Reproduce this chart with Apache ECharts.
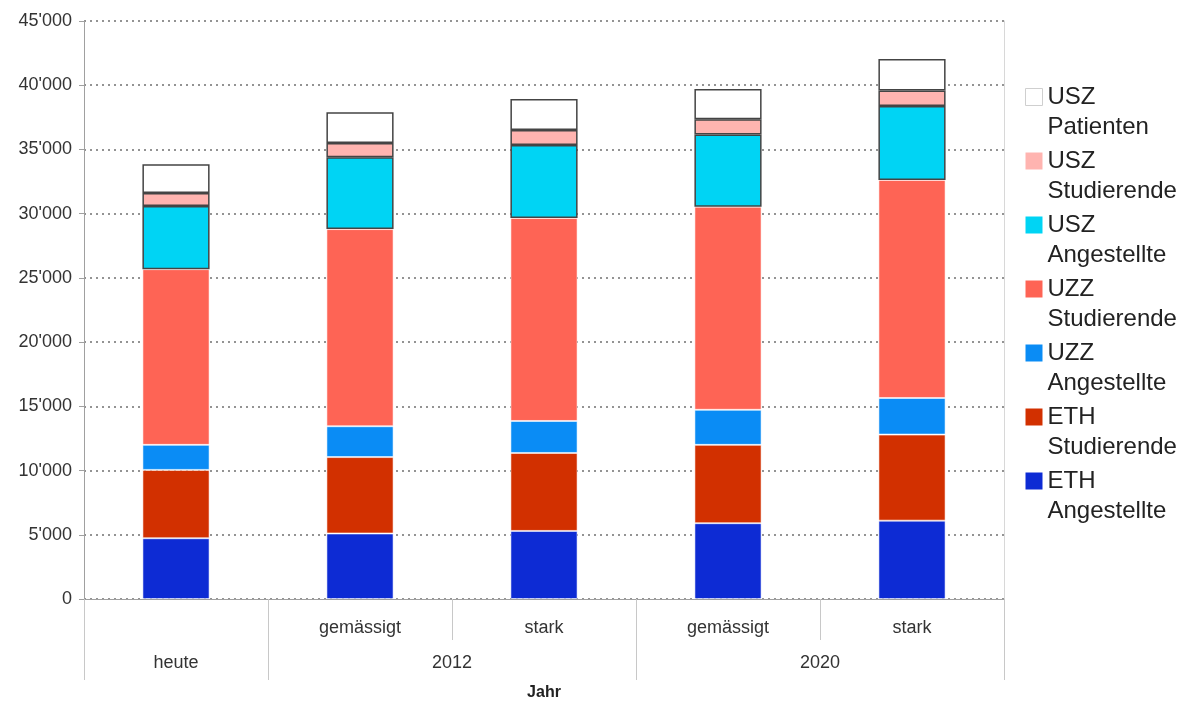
<!DOCTYPE html>
<html>
<head>
<meta charset="utf-8">
<script src="https://cdn.jsdelivr.net/npm/echarts@6/dist/echarts.min.js"></script>
<style>html,body{margin:0;padding:0;background:#fff;}#c{width:1204px;height:705px;}</style>
</head>
<body>
<div id="c"></div>
<script>
const subLabels = ['', 'gemässigt', 'stark', 'gemässigt', 'stark'];
const groupLabels = ['heute', '2012', '2020'];
const groupSizes = [1, 2, 2];
const yTicks = [0, 5000, 10000, 15000, 20000, 25000, 30000, 35000, 40000, 45000];

const ethAngestellte = [4730, 5100, 5300, 5900, 6100];
const ethStudierende = [5320, 5950, 6070, 6100, 6700];
const uzzAngestellte = [1950, 2400, 2490, 2730, 2850];
const uzzStudierende = [13680, 15350, 15800, 15810, 16980];
const uszAngestellte = [4920, 5600, 5690, 5630, 5760];
const uszStudierende = [1000, 1100, 1170, 1190, 1200];
const uszPatienten = [2250, 2400, 2410, 2340, 2450];

const seriesDefs = [
  { name: 'ETH\nAngestellte', data: ethAngestellte, color: '#0d2bd4', outline: false },
  { name: 'ETH\nStudierende', data: ethStudierende, color: '#d23000', outline: false },
  { name: 'UZZ\nAngestellte', data: uzzAngestellte, color: '#0a8cf5', outline: false },
  { name: 'UZZ\nStudierende', data: uzzStudierende, color: '#fe6455', outline: false },
  { name: 'USZ\nAngestellte', data: uszAngestellte, color: '#00d4f4', outline: true },
  { name: 'USZ\nStudierende', data: uszStudierende, color: '#ffb4b0', outline: true },
  { name: 'USZ\nPatienten', data: uszPatienten, color: '#ffffff', outline: true }
];

// group boundaries / centers derived from group sizes
const bounds = [0];
groupSizes.forEach(s => bounds.push(bounds[bounds.length - 1] + s));
const centers = groupSizes.map((s, i) => bounds[i] + s / 2);
const total = bounds[bounds.length - 1];

function fmt(v) {
  const s = String(Math.round(v));
  return s.replace(/\B(?=(\d{3})+(?!\d))/g, "'");
}

const chart = echarts.init(document.getElementById('c'), null, { renderer: 'canvas' });
const fontFam = 'Liberation Sans, Arial, sans-serif';
const sepColor = '#c8c8c8';

chart.setOption({
  animation: false,
  backgroundColor: '#ffffff',
  grid: { left: 84, right: 200, top: 21, bottom: 106, containLabel: false, outerBoundsMode: 'none' },
  legend: {
    orient: 'vertical',
    left: 1025,
    top: 52,
    padding: 0,
    itemWidth: 17,
    itemHeight: 17,
    itemGap: -26,
    icon: 'rect',
    formatter: n => ' \n' + n,
    textStyle: { fontFamily: fontFam, fontSize: 24, color: '#222', lineHeight: 30 },
    data: seriesDefs.slice().reverse().map(s => ({
      name: s.name,
      itemStyle: s.color === '#ffffff' ? { borderColor: '#cfcfcf', borderWidth: 1 } : { borderWidth: 0 }
    }))
  },
  xAxis: [
    {
      type: 'category',
      position: 'bottom',
      data: subLabels,
      boundaryGap: true,
      axisLine: { show: true, lineStyle: { color: '#a0a0a0', width: 1 } },
      axisTick: { show: true, interval: 0, length: 41, lineStyle: { color: sepColor, width: 1 } },
      axisLabel: { interval: 0, margin: 20, fontFamily: fontFam, fontSize: 18, color: '#333' },
      splitLine: { show: false }
    },
    {
      type: 'value',
      position: 'bottom',
      offset: 41,
      min: 0,
      max: total,
      axisLine: { show: false },
      axisTick: { show: false },
      axisLabel: {
        show: true,
        customValues: centers,
        margin: 14,
        fontFamily: fontFam, fontSize: 18, color: '#333',
        formatter: v => {
          const i = centers.findIndex(c => Math.abs(c - v) < 1e-6);
          return i >= 0 ? groupLabels[i] : '';
        }
      },
      splitLine: { show: false },
      name: 'Jahr',
      nameLocation: 'middle',
      nameGap: 45,
      nameTextStyle: { fontFamily: fontFam, fontSize: 16, fontWeight: 'bold', color: '#222' }
    },
    {
      type: 'category',
      position: 'bottom',
      offset: 41,
      data: subLabels,
      boundaryGap: true,
      axisLine: { show: false },
      axisTick: {
        show: true,
        length: 40,
        interval: (idx) => bounds.indexOf(idx) >= 0,
        lineStyle: { color: sepColor, width: 1 }
      },
      axisLabel: { show: false },
      splitLine: { show: false }
    }
  ],
  yAxis: [
    {
      type: 'value',
      min: yTicks[0],
      max: yTicks[yTicks.length - 1],
      interval: yTicks[1] - yTicks[0],
      axisLine: { show: true, lineStyle: { color: '#a0a0a0', width: 1 } },
      axisTick: { show: true, length: 5, lineStyle: { color: '#a0a0a0' } },
      axisLabel: { margin: 12, fontFamily: fontFam, fontSize: 18, color: '#333', formatter: fmt },
      splitLine: { show: true, lineStyle: { color: '#707070', width: 1.5, type: [2, 4] } }
    },
    {
      type: 'value',
      position: 'right',
      min: yTicks[0],
      max: yTicks[yTicks.length - 1],
      axisLine: { show: true, lineStyle: { color: '#d8d8d8', width: 1 } },
      axisTick: { show: false },
      axisLabel: { show: false },
      splitLine: { show: false }
    }
  ],
  series: seriesDefs.map(s => ({
    name: s.name,
    type: 'bar',
    stack: 'total',
    xAxisIndex: 0,
    yAxisIndex: 0,
    barWidth: '36.5%',
    data: s.data,
    itemStyle: s.outline
      ? { color: s.color, borderColor: '#444', borderWidth: 1.5 }
      : { color: s.color, borderColor: 'rgba(255,255,255,0.55)', borderWidth: 1 }
  }))
});
</script>
</body>
</html>
